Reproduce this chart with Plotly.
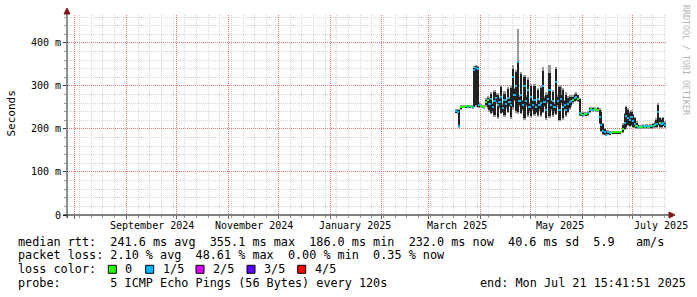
import plotly.graph_objects as go
import pandas as pd

# ---------------- data ----------------
start_sample = "2025-03-17 12:00"   # first consolidated sample (1 day steps)
median_ms = [
    241, 240, 206, 250, 252, 252, 253, 252, 253, 252,
    251, 337, 342, 340, 255, 253, 252, 250, 262, 267,
    258, 270, 250, 265, 272, 255, 262, 275, 248, 268,
    258, 272, 262, 255, 320, 280, 300, 355, 265, 280,
    255, 300, 265, 290, 250, 275, 255, 268, 250, 270,
    255, 260, 300, 262, 245, 270, 290, 255, 265, 250,
    310, 265, 245, 270, 250, 255, 245, 258, 262, 265,
    268, 272, 275, 270, 236, 234, 233, 235, 234, 236,
    245, 246, 245, 246, 244, 245, 228, 210, 196, 192,
    187, 193, 190, 191, 192, 192, 192, 192, 192, 193,
    200, 215, 230, 225, 220, 228, 218, 212, 208, 205,
    204, 205, 206, 204, 206, 205, 207, 206, 208, 210,
    212, 240, 215, 212, 215, 210,
]
inner_lo = [
    238, 237, 204, 247, 250, 250, 251, 250, 251, 250,
    249, 252, 255, 250, 250, 250, 250, 248, 255, 250,
    245, 238, 242, 232, 262, 228, 250, 238, 240, 232,
    250, 240, 254, 228, 250, 268, 242, 240, 255, 238,
    246, 225, 255, 232, 242, 230, 246, 235, 240, 232,
    246, 232, 240, 254, 226, 262, 230, 246, 232, 242,
    235, 256, 222, 260, 225, 246, 232, 240, 248, 255,
    262, 265, 268, 265, 232, 231, 230, 232, 231, 233,
    240, 243, 242, 243, 241, 242, 215, 195, 188, 186,
    185, 188, 187, 189, 190, 190, 190, 190, 190, 191,
    193, 200, 205, 210, 208, 210, 205, 205, 203, 202,
    202, 203, 203, 202, 203, 203, 204, 203, 205, 205,
    205, 210, 205, 205, 208, 205,
]
inner_hi = [
    244, 244, 243, 253, 254, 254, 255, 254, 255, 254,
    254, 342, 346, 344, 259, 256, 254, 253, 268, 272,
    270, 282, 258, 285, 280, 278, 270, 298, 256, 282,
    266, 292, 270, 295, 340, 292, 332, 357, 275, 328,
    264, 320, 275, 315, 258, 300, 264, 300, 258, 290,
    264, 295, 335, 272, 280, 280, 330, 264, 285, 258,
    340, 274, 298, 280, 290, 264, 280, 272, 275, 275,
    275, 280, 282, 278, 270, 238, 237, 238, 237, 240,
    248, 249, 248, 249, 247, 248, 245, 240, 212, 200,
    195, 196, 194, 194, 194, 194, 194, 194, 194, 195,
    210, 235, 250, 245, 238, 240, 232, 225, 215, 210,
    207, 208, 209, 207, 209, 208, 210, 209, 212, 215,
    222, 255, 225, 222, 225, 215,
]
outer_lo = [
    236, 235, 202, 245, 249, 249, 250, 248, 250, 249,
    247, 250, 252, 248, 248, 249, 249, 247, 252, 247,
    240, 234, 238, 228, 258, 224, 246, 234, 236, 228,
    246, 236, 250, 224, 245, 264, 238, 235, 250, 234,
    242, 222, 250, 228, 238, 226, 242, 230, 236, 228,
    242, 228, 236, 250, 222, 258, 226, 242, 228, 238,
    232, 252, 218, 256, 222, 242, 228, 236, 244, 252,
    258, 262, 265, 262, 230, 230, 229, 230, 230, 231,
    238, 241, 240, 241, 239, 240, 212, 192, 186, 185,
    184, 186, 186, 188, 189, 189, 189, 189, 189, 190,
    191, 197, 200, 206, 205, 207, 202, 203, 201, 200,
    200, 201, 201, 200, 201, 201, 202, 201, 203, 203,
    203, 208, 203, 203, 206, 203,
]
outer_hi = [
    246, 246, 246, 255, 255, 255, 256, 256, 256, 255,
    256, 346, 348, 347, 262, 258, 256, 255, 272, 276,
    274, 286, 262, 290, 284, 284, 274, 302, 260, 288,
    270, 298, 274, 300, 348, 296, 338, 432, 280, 332,
    268, 325, 280, 320, 262, 305, 268, 305, 262, 295,
    268, 300, 345, 276, 285, 284, 348, 268, 290, 262,
    345, 278, 302, 300, 295, 268, 285, 276, 278, 278,
    278, 283, 285, 280, 273, 240, 239, 240, 239, 242,
    250, 251, 250, 251, 249, 250, 248, 244, 215, 203,
    197, 198, 196, 195, 195, 195, 195, 195, 195, 196,
    213, 238, 254, 248, 242, 244, 235, 228, 218, 212,
    209, 210, 211, 209, 211, 210, 212, 211, 214, 218,
    225, 260, 228, 225, 228, 218,
]
lost_pings = [
    1, 1, 1, 0, 0, 0, 0, 1, 0, 0,
    1, 1, 1, 1, 1, 0, 0, 0, 0, 0,
    1, 1, 1, 1, 1, 1, 1, 1, 1, 1,
    1, 1, 1, 1, 1, 1, 1, 1, 1, 1,
    1, 1, 1, 1, 1, 1, 1, 1, 1, 1,
    1, 1, 1, 1, 1, 1, 1, 1, 1, 1,
    1, 1, 1, 1, 1, 1, 1, 1, 1, 1,
    0, 1, 1, 0, 1, 0, 1, 0, 0, 1,
    1, 0, 1, 0, 0, 0, 1, 1, 1, 1,
    1, 1, 1, 0, 0, 0, 0, 0, 0, 0,
    0, 1, 1, 1, 1, 1, 1, 1, 0, 1,
    0, 0, 1, 0, 1, 0, 1, 0, 1, 0,
    1, 1, 0, 1, 1, 1,
]

loss_labels = ["0", "1/5", "2/5", "3/5", "4/5"]
loss_colors = ["#26ff00", "#00b8ff", "#dd00ff", "#5e00ff", "#ff0000"]

y_tick_vals = [0, 100, 200, 300, 400]
y_tick_text = ["0", "100 m", "200 m", "300 m", "400 m"]

x_label_dates = ["2024-09-16 09:00", "2024-11-16 12:00", "2025-01-16 00:00",
                 "2025-03-18 05:00", "2025-05-18 17:00", "2025-07-18 08:00"]
x_label_text = ["September 2024", "November 2024", "January 2025",
                "March 2025", "May 2025", "July 2025"]

legend_lines = [
    "median rtt:  241.6 ms avg  355.1 ms max  186.0 ms min  232.0 ms now  40.6 ms sd  5.9   am/s",
    "packet loss: 2.10 % avg  48.61 % max  0.00 % min  0.35 % now",
    "loss color:",
    "probe:       5 ICMP Echo Pings (56 Bytes) every 120s",
]
end_text = "end: Mon Jul 21 15:41:51 2025"

x_start = "2024-07-27 12:00"
x_end = "2025-07-21 15:41:51"
y_max = 465

# ---------------- layout geometry ----------------
W, H = 697, 297
ML, MR, MT, MB = 67, 30, 15, 82
PW, PH = W - ML - MR, H - MT - MB
MONO = "DejaVu Sans Mono"


def px(x):
    return (x - ML) / PW


def py(y):
    return (MT + PH - y) / PH


dates = pd.date_range(start_sample, periods=len(median_ms), freq="D")
DAY_MS = 86400000
half_band = y_max / PH  # median band = 2 px tall

fig = go.Figure()

fig.add_trace(go.Bar(
    x=dates, base=outer_lo, y=[h - l for h, l in zip(outer_hi, outer_lo)],
    width=DAY_MS, marker=dict(color="#9a9a9a", line=dict(width=0)),
    showlegend=False, hoverinfo="skip"))
fig.add_trace(go.Bar(
    x=dates, base=inner_lo, y=[h - l for h, l in zip(inner_hi, inner_lo)],
    width=DAY_MS, marker=dict(color="#222222", line=dict(width=0)),
    showlegend=False, hoverinfo="skip"))

for lvl, (lab, col) in enumerate(zip(loss_labels, loss_colors)):
    xs = [d for d, l in zip(dates, lost_pings) if l == lvl]
    ms = [m for m, l in zip(median_ms, lost_pings) if l == lvl]
    if not xs:
        continue
    fig.add_trace(go.Bar(
        x=xs, base=[m - half_band for m in ms], y=[2 * half_band] * len(ms),
        width=DAY_MS, marker=dict(color=col, line=dict(width=0)),
        name=lab, showlegend=False, hoverinfo="skip"))

grid_minor = "rgb(214,214,214)"
grid_major = "rgb(230,120,120)"

# minor y grid every 20, skipping the major (100) lines
y_minor_vals = [v for v in range(0, y_max, 20) if v % 100 != 0]
# minor x grid: weekly (Sundays), skipping weeks that fall on a month start
week_vals = [d for d in pd.date_range("2024-07-28", x_end, freq="7D") if d.day != 1]

fig.update_layout(
    width=W, height=H,
    margin=dict(l=ML, r=MR, t=MT, b=MB, pad=0),
    paper_bgcolor="white", plot_bgcolor="white",
    barmode="overlay", bargap=0,
    font=dict(family=MONO, size=10, color="black"),
    xaxis=dict(
        type="date", range=[x_start, x_end],
        showgrid=True, gridcolor=grid_major, griddash="1px,1px", gridwidth=1,
        dtick="M1", tick0="2024-08-01",
        showticklabels=False, ticks="outside", ticklen=3, tickcolor="#666",
        minor=dict(showgrid=True, gridcolor=grid_minor, griddash="1px,1px",
                   tickmode="array", tickvals=week_vals,
                   ticks="outside", ticklen=2, tickcolor="#999"),
        zeroline=False, showline=False, fixedrange=True,
        layer="below traces",
    ),
    yaxis=dict(
        range=[0, y_max],
        tickvals=y_tick_vals, ticktext=y_tick_text,
        showgrid=True, gridcolor=grid_major, griddash="1px,1px", gridwidth=1,
        ticks="outside", ticklen=3, tickcolor="#333",
        tickfont=dict(family=MONO, size=10, color="black"),
        minor=dict(showgrid=True, gridcolor=grid_minor, griddash="1px,1px",
                   tickmode="array", tickvals=y_minor_vals,
                   ticks="outside", ticklen=2, tickcolor="#999"),
        zeroline=False, showline=False, fixedrange=True,
    ),
)

# axis lines and arrows (rrdtool style)
shapes = [
    dict(type="line", xref="paper", yref="paper", x0=px(67), x1=px(67),
         y0=py(218), y1=py(12), line=dict(color="#202020", width=1)),
    dict(type="line", xref="paper", yref="paper", x0=px(63), x1=px(670),
         y0=py(215), y1=py(215), line=dict(color="#000000", width=1)),
    dict(type="path", xref="paper", yref="paper", fillcolor="#7f1818",
         line=dict(color="#7f1818", width=1),
         path=f"M {px(64)},{py(14)} L {px(67)},{py(8)} L {px(70)},{py(14)} Z"),
    dict(type="path", xref="paper", yref="paper", fillcolor="#7f1818",
         line=dict(color="#7f1818", width=1),
         path=f"M {px(669)},{py(212)} L {px(675)},{py(215)} L {px(669)},{py(218)} Z"),
]

annotations = []
# x labels (centered on their dates)
for d, t in zip(x_label_dates, x_label_text):
    annotations.append(dict(x=d, xref="x", y=py(225), yref="paper", text=t,
                            showarrow=False, xanchor="center", yanchor="middle",
                            font=dict(family=MONO, size=10, color="black")))

# y title
annotations.append(dict(x=px(10.5), y=py(114), xref="paper", yref="paper",
                        text="Seconds", textangle=-90, showarrow=False,
                        xanchor="center", yanchor="middle",
                        font=dict(family=MONO, size=11, color="black")))
# watermark
annotations.append(dict(x=px(686), y=py(60), xref="paper", yref="paper",
                        text="RRDTOOL / TOBI OETIKER", textangle=90, showarrow=False,
                        xanchor="center", yanchor="middle",
                        font=dict(family=MONO, size=8.3, color="#b4b4b4")))

row_y = [241.7, 255.0, 269.3, 283.3]
LEG_FS = 11.8
for txt, ry in zip(legend_lines, row_y):
    annotations.append(dict(x=px(16), y=py(ry), xref="paper", yref="paper",
                            text=txt.replace(" ", "&nbsp;"), showarrow=False,
                            xanchor="left", yanchor="middle",
                            font=dict(family=MONO, size=LEG_FS, color="black")))
annotations.append(dict(x=px(478.3), y=py(row_y[3]), xref="paper", yref="paper",
                        text=end_text.replace(" ", "&nbsp;"), showarrow=False,
                        xanchor="left", yanchor="middle",
                        font=dict(family=MONO, size=LEG_FS, color="black")))

# loss colour legend boxes
box_x = [108.3, 145.7, 196.0, 247.0, 297.7]
for bx, lab, col in zip(box_x, loss_labels, loss_colors):
    shapes.append(dict(type="rect", xref="paper", yref="paper",
                       x0=px(bx), x1=px(bx + 8), y0=py(273.3), y1=py(265.3),
                       fillcolor=col, line=dict(color="black", width=1)))
    annotations.append(dict(x=px(bx + 15), y=py(row_y[2]), xref="paper", yref="paper",
                            text=lab, showarrow=False, xanchor="left", yanchor="middle",
                            font=dict(family=MONO, size=LEG_FS, color="black")))

fig.update_layout(shapes=shapes, annotations=annotations)
fig.write_html("out.html")
